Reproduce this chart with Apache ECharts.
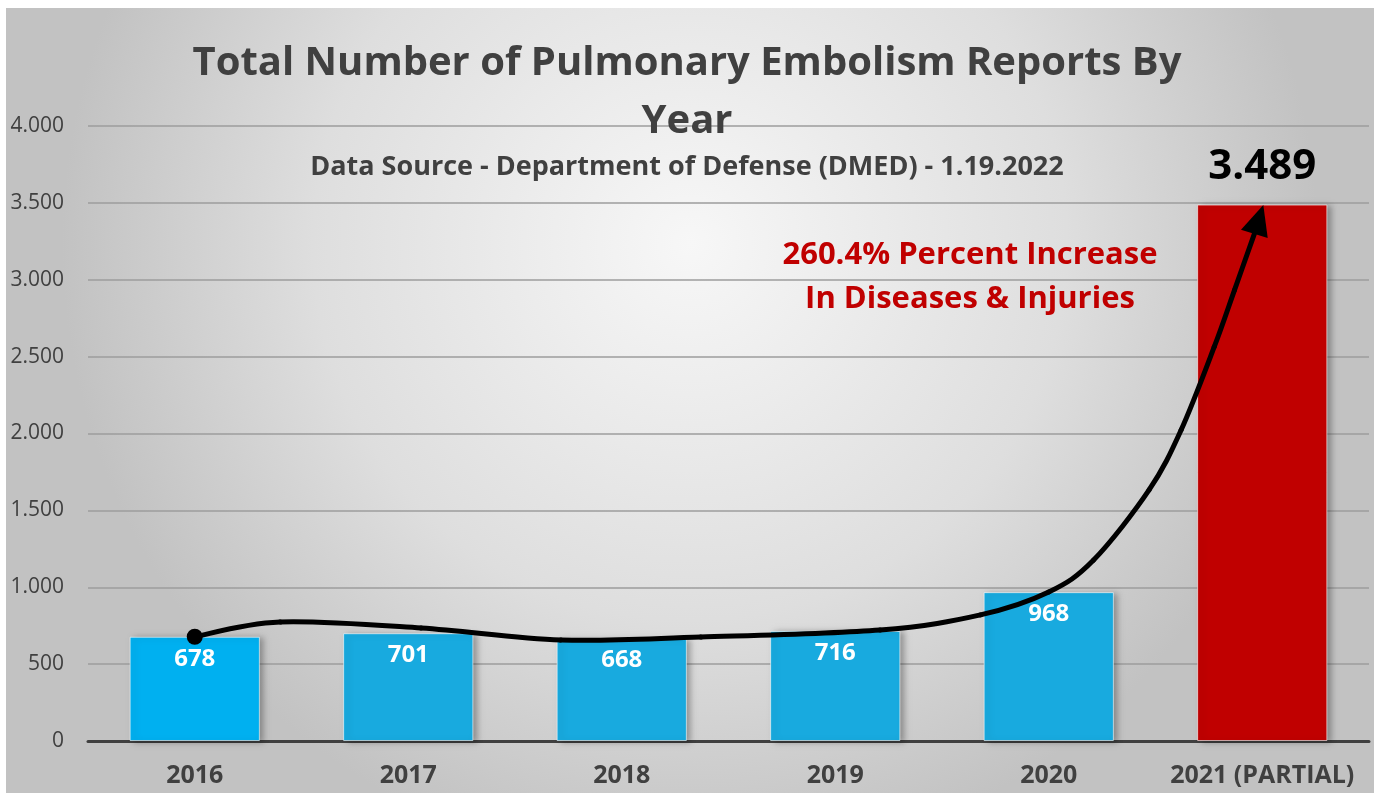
<!DOCTYPE html>
<html>
<head>
<meta charset="utf-8">
<title>Pulmonary Embolism Reports</title>
<script src="https://cdn.jsdelivr.net/npm/echarts@6/dist/echarts.min.js"></script>
<style>
    html,body{margin:0;padding:0;background:#fff;}
    #main{width:1374px;height:793px;}
</style>
</head>
<body>
<div id="main"></div>
<script>
var years=["2016","2017","2018","2019","2020","2021 (PARTIAL)"];
var reports=[678,701,668,716,968,3489];
var barColors=["#00b0f0","#18aadf","#18aadf","#18aadf","#18aadf","#c00000"];
var yTicks=[0,500,1000,1500,2000,2500,3000,3500,4000];

// hand drawn trend arrow, [category position, value]
var arrowPath=[[0,678],[0.4,774],[1.06,735],[1.715,657],[2.37,676],[3.21,722],[3.68,820],[4.0,969],[4.21,1177],[4.47,1633],[4.62,2023],[4.775,2563],[4.87,2933],[4.963,3298]];
var arrowTip=[5.005,3486];

function fmt(v){
    if(v<1000) return String(v);
    var r=String(v%1000);
    while(r.length<3) r="0"+r;
    return Math.floor(v/1000)+"."+r;
}

var font="Open Sans";

var myChart=echarts.init(document.getElementById("main"));

var option={
    animation:false,
    backgroundColor:"#ffffff",
    textStyle:{fontFamily:font},
    title:[
        {
            text:"Total Number of Pulmonary Embolism Reports By\nYear",
            left:"center",
            top:30,
            textStyle:{fontFamily:font,fontWeight:"bold",fontSize:40,color:"#404040",lineHeight:58}
        },
        {
            text:"Data Source - Department of Defense (DMED) - 1.19.2022",
            left:"center",
            top:149,
            textStyle:{fontFamily:font,fontWeight:"bold",fontSize:27,color:"#404040"}
        }
    ],
    grid:{left:88,right:5,top:126,bottom:52},
    xAxis:{
        type:"category",
        data:years,
        axisTick:{show:false},
        axisLine:{lineStyle:{color:"#404040",width:3}},
        axisLabel:{interval:0,fontFamily:font,fontWeight:"bold",fontSize:25,color:"#404040",margin:22}
    },
    yAxis:{
        type:"value",
        min:0,max:4000,interval:500,
        axisLine:{show:false},
        axisTick:{show:false},
        splitLine:{lineStyle:{color:"#9c9c9c",width:1.5}},
        axisLabel:{
            fontFamily:font,fontSize:21,color:"#404040",margin:24,
            formatter:function(v){ return yTicks.indexOf(v)>=0?fmt(v):""; }
        }
    },
    series:[
        {
            type:"bar",
            barWidth:"61%",
            data:reports.map(function(v,i){
                var last=i==reports.length-1;
                return {
                    value:v,
                    itemStyle:{color:barColors[i]},
                    label:last?{
                        position:"top",distance:17,color:"#000",fontSize:42
                    }:{}
                };
            }),
            itemStyle:{
                borderColor:"rgba(255,255,255,0.6)",borderWidth:1,
                shadowColor:"rgba(0,0,0,0.3)",shadowBlur:6,shadowOffsetX:4,shadowOffsetY:1
            },
            label:{
                show:true,
                position:"insideTop",
                distance:10,
                color:"#fff",
                fontFamily:font,
                fontWeight:"bold",
                fontSize:24,
                formatter:function(p){ return fmt(p.value); }
            }
        }
    ]
};

myChart.setOption(option);

// category axis snaps to whole indexes, so step between centres by hand
var c0=myChart.convertToPixel({gridIndex:0},[0,0]);
var c1=myChart.convertToPixel({gridIndex:0},[1,0]);
var step=c1[0]-c0[0];
function toPx(p){
    var y=myChart.convertToPixel({gridIndex:0},[0,p[1]])[1];
    return [c0[0]+p[0]*step,y];
}

var pts=arrowPath.map(toPx);
var tip=toPx(arrowTip);

var curve=[];
for(var i=0;i<pts.length-1;i++){
    var p0=pts[i-1]||pts[i];
    var p1=pts[i];
    var p2=pts[i+1];
    var p3=pts[i+2]||p2;
    curve.push({
        type:"bezierCurve",z:30,silent:true,
        shape:{
            x1:p1[0],y1:p1[1],x2:p2[0],y2:p2[1],
            cpx1:p1[0]+(p2[0]-p0[0])/6,cpy1:p1[1]+(p2[1]-p0[1])/6,
            cpx2:p2[0]-(p3[0]-p1[0])/6,cpy2:p2[1]-(p3[1]-p1[1])/6
        },
        style:{fill:null,stroke:"#000",lineWidth:5,lineCap:"round"}
    });
}

var base=pts[pts.length-1];
var dx=tip[0]-base[0],dy=tip[1]-base[1];
var len=Math.sqrt(dx*dx+dy*dy);
var nx=-dy/len*14,ny=dx/len*14;

myChart.setOption({
    graphic:[
        {
            type:"rect",
            left:6,top:8,z:-10,silent:true,
            shape:{width:1368,height:785},
            style:{
                fill:new echarts.graphic.RadialGradient(0.5,0.3,0.8,[
                    {offset:0,color:"#f7f7f7"},
                    {offset:0.6,color:"#dedede"},
                    {offset:1,color:"#c2c2c2"}
                ])
            }
        },
        {
            type:"text",
            x:970,y:277,z:20,
            style:{
                text:"260.4% Percent Increase\nIn Diseases & Injuries",
                fill:"#c00000",
                font:"bold 31px '"+font+"'",
                lineHeight:44,
                align:"center",
                verticalAlign:"middle"
            }
        },
        {
            type:"polygon",z:30,silent:true,
            shape:{points:[[tip[0],tip[1]],[base[0]+nx,base[1]+ny],[base[0]-nx,base[1]-ny]]},
            style:{fill:"#000"}
        },
        {
            type:"circle",z:30,silent:true,
            shape:{cx:pts[0][0],cy:pts[0][1],r:8},
            style:{fill:"#000"}
        }
    ].concat(curve)
});
</script>
</body>
</html>
